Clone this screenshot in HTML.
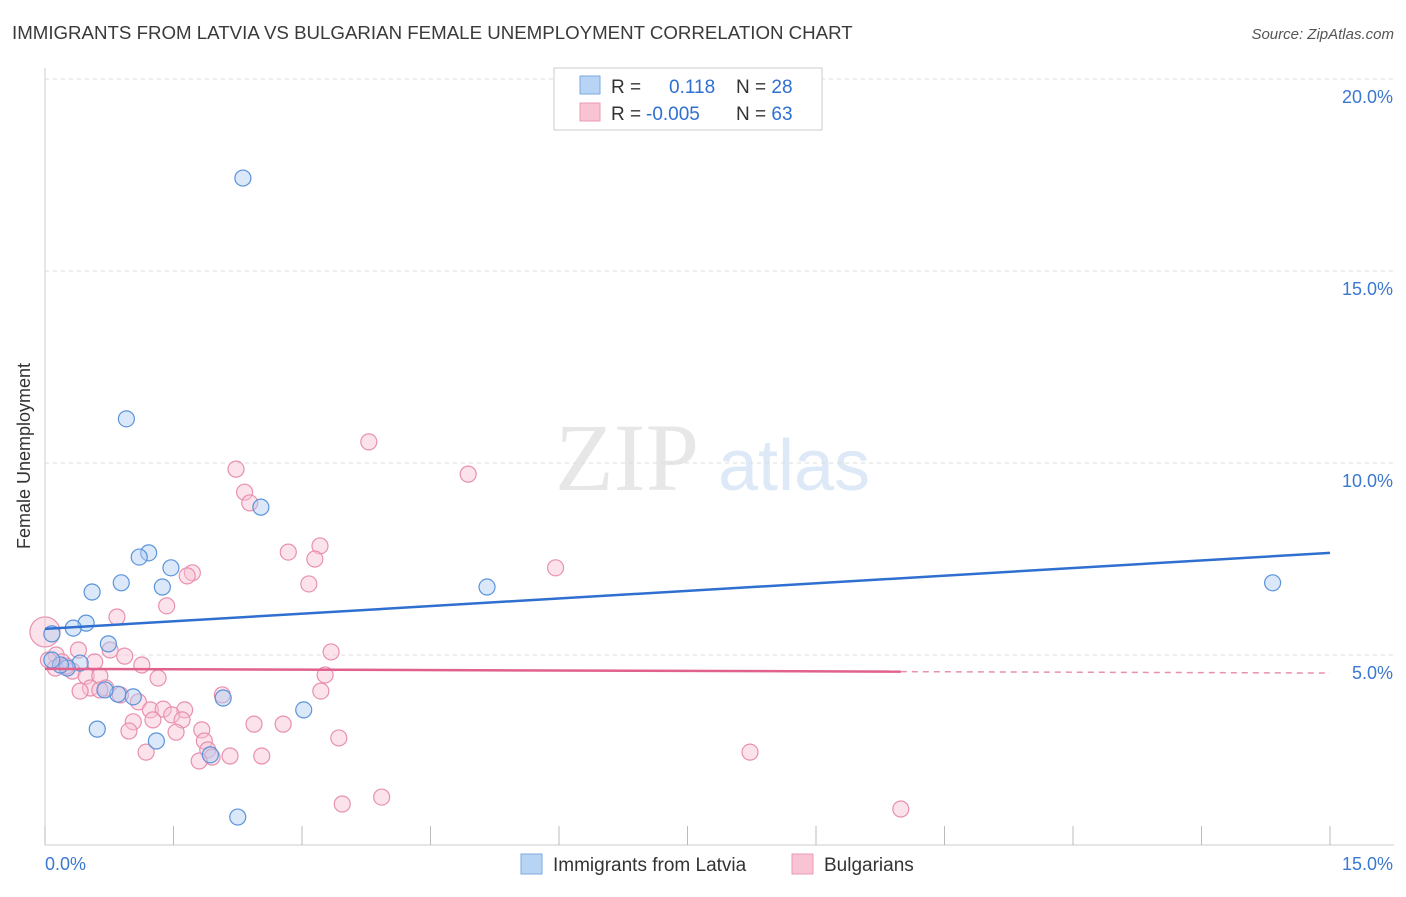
<!DOCTYPE html>
<html><head><meta charset="utf-8"><style>
body{margin:0;background:#fff;font-family:"Liberation Sans",sans-serif}
</style></head><body>
<svg id="c" width="1406" height="892" xmlns="http://www.w3.org/2000/svg" style="font-family:'Liberation Sans',sans-serif">
<text x="12" y="39" font-size="18.7" fill="#3a3a3a">IMMIGRANTS FROM LATVIA VS BULGARIAN FEMALE UNEMPLOYMENT CORRELATION CHART</text>
<text x="1394" y="39" font-size="15" fill="#555" font-style="italic" text-anchor="end">Source: ZipAtlas.com</text>
<text x="30" y="456" font-size="18" fill="#333" text-anchor="middle" transform="rotate(-90 30 456)">Female Unemployment</text>
<g><text x="555" y="490" font-size="96" fill="#ddd" font-family="Liberation Serif" opacity="0.7">ZIP</text><text x="718" y="490" font-size="72" fill="#c8dcf2" opacity="0.6">atlas</text></g>
<g id="grid"></g><g id="marks"></g>
<g>
<rect x="554" y="68" width="268" height="62" fill="#fff" stroke="#ccc"/>
<rect x="580" y="76" width="20" height="18" fill="#b8d4f4" stroke="#7aaae0"/>
<rect x="580" y="103" width="20" height="18" fill="#f8c4d4" stroke="#e89ab4"/>
<text x="611" y="93" font-size="19" fill="#333">R =  <tspan fill="#2f6fd0" x="669">0.118</tspan><tspan fill="#333" x="736">N = </tspan><tspan fill="#2f6fd0">28</tspan></text>
<text x="611" y="120" font-size="19" fill="#333">R = <tspan fill="#2f6fd0" x="646">-0.005</tspan><tspan fill="#333" x="736">N = </tspan><tspan fill="#2f6fd0">63</tspan></text>
</g>
<g>
<rect x="521" y="854" width="21" height="20" fill="#b8d4f4" stroke="#7aaae0"/>
<text x="553" y="871" font-size="19" fill="#333">Immigrants from Latvia</text>
<rect x="792" y="854" width="21" height="20" fill="#f8c4d4" stroke="#e89ab4"/>
<text x="824" y="871" font-size="19" fill="#333">Bulgarians</text>
</g>
</svg>
<script>
const xTicks=[0,1.5,3,4.5,6,7.5,9,10.5,12,13.5,15];
const yTicks=[5,10,15,20];
const yTickLabels=["5.0%","10.0%","15.0%","20.0%"];
const latviaX=[2.31,0.95,2.52,1.21,1.10,1.47,0.89,1.37,0.55,5.16,14.33,0.48,0.33,0.74,0.08,0.41,0.26,0.18,0.08,0.85,1.03,0.70,2.08,3.02,0.61,1.30,1.93,2.25];
const latviaY=[17.42,11.15,8.85,7.66,7.55,7.27,6.88,6.77,6.64,6.77,6.88,5.83,5.70,5.29,5.55,4.79,4.66,4.74,4.87,3.98,3.91,4.09,3.88,3.57,3.07,2.76,2.40,0.78];
const bulgX=[3.78,2.23,4.94,2.33,2.39,3.21,2.84,3.15,5.96,1.72,1.66,3.08,1.42,0.84,0,0.39,0.76,3.34,0.93,1.13,0.13,0.20,0.58,0.32,0.48,0.64,1.32,3.27,0.53,0.41,0.71,0.88,2.07,1.09,3.22,1.23,1.38,1.63,1.48,1.60,1.26,1.03,1.83,0.98,1.53,1.86,3.43,2.78,2.44,1.90,1.18,2.16,1.95,2.53,1.80,8.23,3.47,3.93,9.99,0.04,0.12,0.25,0.64];
const bulgY=[10.55,9.84,9.71,9.24,8.96,7.84,7.68,7.50,7.27,7.14,7.06,6.85,6.28,5.99,5.60,5.13,5.13,5.08,4.97,4.74,5.00,4.82,4.82,4.58,4.45,4.45,4.40,4.48,4.14,4.06,4.14,3.96,3.96,3.78,4.06,3.57,3.59,3.57,3.44,3.31,3.31,3.26,3.05,3.02,2.99,2.76,2.84,3.20,3.20,2.53,2.47,2.37,2.34,2.37,2.24,2.47,1.12,1.30,0.99,4.87,4.66,4.71,4.09];
const latviaTrend=[5.68,7.66];
const bulgTrend=[4.64,4.53];
const bulgSolidEnd=9.99;
const X=v=>45+v/15*1285, Y=v=>847-v*38.4;
const NS="http://www.w3.org/2000/svg";
const grid=document.getElementById('grid'), marks=document.getElementById('marks');
function mk(p,tag,a){const e=document.createElementNS(NS,tag);for(const k in a)e.setAttribute(k,a[k]);p.appendChild(e);return e;}
let e=mk(grid,'line',{x1:45,y1:68,x2:45,y2:845,stroke:'#ccc'});


e=mk(grid,'line',{x1:45,y1:845,x2:1394,y2:845,stroke:'#ccc'});


yTicks.forEach((t,i)=>{
 let g=mk(grid,'line',{x1:45,x2:1394,y1:Y(t),y2:Y(t),stroke:'#ddd','stroke-dasharray':'4 4'});
 
 
 let l=mk(grid,'text',{x:1393,y:Y(t)+24,'font-size':18,fill:'#3b78d0','text-anchor':'end'});
 l.textContent=yTickLabels[i];
 
 
});
xTicks.forEach(t=>{
 let g=mk(grid,'line',{x1:X(t),x2:X(t),y1:826,y2:845,stroke:'#bbb'});
 
 
});
e=mk(grid,'text',{x:45,y:870,'font-size':18,fill:'#3b78d0'});e.textContent='0.0%';


e=mk(grid,'text',{x:1393,y:870,'font-size':18,fill:'#3b78d0','text-anchor':'end'});e.textContent='15.0%';


function pts(xs,ys,fill,stroke,name){xs.forEach((x,i)=>{const r=(x===0)?15:8;
 let c=mk(marks,'circle',{cx:X(x),cy:Y(ys[i]),r:r,fill:fill,'fill-opacity':0.45,stroke:stroke,'stroke-width':1.2});
 
 });}
pts(bulgX,bulgY,'#f8c0d2','#e890b0','bulgarians-point');
pts(latviaX,latviaY,'#b0cdf2','#5b93da','latvia-point');
e=mk(marks,'line',{x1:X(0),y1:Y(latviaTrend[0]),x2:X(15),y2:Y(latviaTrend[1]),stroke:'#2f6fd0','stroke-width':2.5});


const by=v=>bulgTrend[0]+(bulgTrend[1]-bulgTrend[0])*v/15;
e=mk(marks,'line',{x1:X(0),y1:Y(by(0)),x2:X(bulgSolidEnd),y2:Y(by(bulgSolidEnd)),stroke:'#e0608e','stroke-width':2.5});


e=mk(marks,'line',{x1:X(bulgSolidEnd),y1:Y(by(bulgSolidEnd)),x2:X(15),y2:Y(by(15)),stroke:'#e890b0','stroke-width':1.5,'stroke-dasharray':'6 5'});


</script>
</body></html>
